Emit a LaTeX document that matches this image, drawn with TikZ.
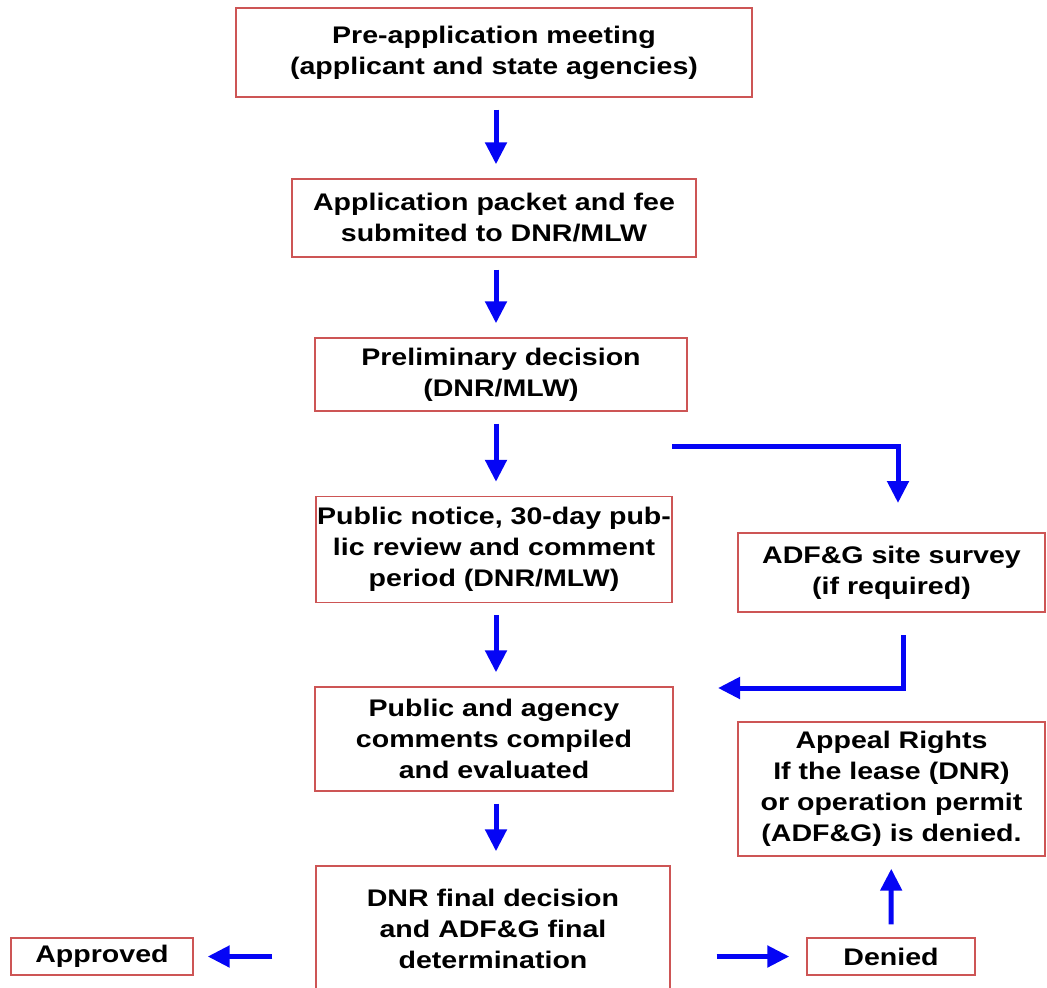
\documentclass[tikz,border=0pt]{standalone}
\usepackage{fontspec}
\setmainfont{Liberation Sans}[FakeStretch=1.19]
\usetikzlibrary{arrows.meta,positioning}
\definecolor{boxred}{RGB}{205,85,85}
\definecolor{flowblue}{RGB}{5,5,245}

\begin{document}
\begin{tikzpicture}[x=1pt,y=-1pt,
      stage/.style={
         rectangle,
         draw=boxred,
         line width=1.4pt,
         inner sep=0pt,
         align=center,
         font=\bfseries\fontsize{24}{31}\selectfont
      },
      tip/.style={
         -{Triangle[length=22pt,width=21pt]},
         line width=5pt,draw=flowblue,
         shorten >=14pt,shorten <=12pt
      },
      elbow tip/.style={-{Triangle[length=22pt,width=21pt]},line width=5pt,draw=flowblue},
      point/.style={coordinate}
    ]
    \useasboundingbox (0,0) rectangle (1047,988);
    % main column
    \node (n1) [stage, minimum width=516pt, minimum height=89pt] at (494,52.5)
       {Pre-application meeting\\(applicant and state agencies)};
    \node (n2) [stage, minimum width=404pt, minimum height=78pt] at (494,218)
       {Application packet and fee\\submited to DNR/MLW};
    \node (n3) [stage, minimum width=372pt, minimum height=73pt] at (501,374.5)
       {Preliminary decision\\(DNR/MLW)};
    \node (n4) [stage, minimum width=356pt, minimum height=106pt] at (494,549.5)
       {Public notice, 30-day pub-\\lic review and comment\\period (DNR/MLW)};
    \node (n5) [stage, minimum width=358pt, minimum height=104pt] at (494,739)
       {Public and agency\\comments compiled\\and evaluated};
    \node (n6) [stage, minimum width=354pt, minimum height=126pt] at (493,929)
       {DNR final decision\\and ADF\&G final\\determination};
    % side column
    \node (n7) [stage, minimum width=307pt, minimum height=79pt] at (891.5,572.5)
       {ADF\&G site survey\\(if required)};
    \node (n8) [stage, minimum width=307pt, minimum height=134pt] at (891.5,789)
       {Appeal Rights\\If the lease (DNR)\\or operation permit\\(ADF\&G) is denied.};
    \node (n9) [stage, minimum width=182pt, minimum height=37pt] at (102,956.5) {Approved};
    \node (n10) [stage, minimum width=168pt, minimum height=37pt] at (891,956.5) {Denied};
    \node (n41) [point] at (672,446) {};
    \node (n71) [point] at (898,503) {};
    \node (n72) [point] at (903,635) {};
    \node (n51) [point] at (718,688) {};

    \draw[tip] (n1.south -| 496,0) -- (n2.north -| 496,0);
    \draw[tip] (n2.south -| 496,0) -- (n3.north -| 496,0);
    \draw[tip] (n3.south -| 496,0) -- (n4.north -| 496,0);
    \draw[tip] (n4.south -| 496,0) -- (n5.north -| 496,0);
    \draw[tip] (n5.south -| 496,0) -- (n6.north -| 496,0);
    \draw[elbow tip] (n41) -| (n71);
    \draw[elbow tip] (n72) |- (n51);
    \draw[tip, shorten <=43pt] (n6.west |- n9) -- (n9);
    \draw[tip, shorten <=46pt, shorten >=17pt] (n6.east |- n10) -- (n10);
    \draw[tip, shorten <=13pt, shorten >=12pt] (n10) -- (n8);
\end{tikzpicture}
\end{document}
